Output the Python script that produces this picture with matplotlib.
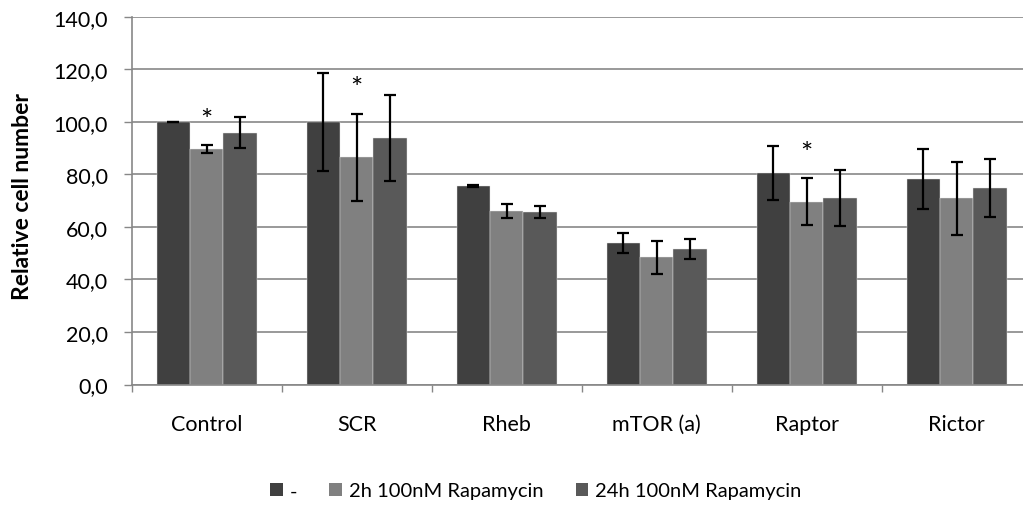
import matplotlib
matplotlib.use("Agg")
import matplotlib.pyplot as plt
import numpy as np
from matplotlib.patches import Patch

plt.rcParams['font.family'] = ['Lato', 'DejaVu Sans']

categories = ["Control", "SCR", "Rheb", "mTOR (a)", "Raptor", "Rictor"]
series_names = ["-", "2h 100nM Rapamycin", "24h 100nM Rapamycin"]
values_none = [100.0, 100.0, 75.5, 53.9, 80.6, 78.1]
values_2h = [89.6, 86.5, 66.0, 48.4, 69.5, 70.8]
values_24h = [95.8, 93.8, 65.6, 51.6, 71.0, 74.8]
err_none = [0.0, 18.6, 0.3, 3.7, 10.3, 11.5]
err_2h = [1.6, 16.6, 2.7, 6.2, 8.9, 13.8]
err_24h = [5.9, 16.5, 2.4, 3.8, 10.7, 11.1]
significant_2h = [True, True, False, False, True, False]
yticks = [0, 20, 40, 60, 80, 100, 120, 140]

colors = ["#404040", "#808080", "#595959"]
grid_col = "#878787"
FS = 15.5

W, H = 1023, 506
fig = plt.figure(figsize=(W / 100, H / 100), dpi=100)
ax = fig.add_axes([131.7 / W, (H - 385.5) / H, 900 / W, (385.5 - 17.6) / H])

x = np.arange(len(categories))
bw = 0.2222
all_vals = [values_none, values_2h, values_24h]
all_errs = [err_none, err_2h, err_24h]
for i, (v, e, c) in enumerate(zip(all_vals, all_errs, colors)):
    pos = x + (i - 1) * bw
    ax.bar(pos, v, width=bw, color=c, edgecolor="#e6e6e6", linewidth=0.3, zorder=2)
    ax.errorbar(pos, v, yerr=e, fmt="none", ecolor="black", elinewidth=1.6,
                capsize=4.5, capthick=1.6, zorder=3)

for xi, v, e, s in zip(x, values_2h, err_2h, significant_2h):
    if s:
        ax.annotate("*", xy=(xi, v + e), xytext=(0, 8), textcoords="offset points",
                    ha="center", va="bottom", fontsize=21, color="black")

ax.set_xlim(-0.5, len(categories) - 0.5)
ax.set_ylim(0, 140)
ax.set_yticks(yticks)
ax.set_yticklabels([f"{t:.1f}".replace(".", ",") for t in yticks])
ax.yaxis.grid(True, color=grid_col, linewidth=1.2, zorder=0)
ax.set_axisbelow(True)

ax.set_xticks(np.arange(len(categories) + 1) - 0.5)
ax.set_xticklabels([])
ax.set_xticks(x, minor=True)
ax.set_xticklabels(categories, minor=True)
ax.tick_params(axis="x", which="major", length=5, width=1, color=grid_col, direction="out")
ax.tick_params(axis="x", which="minor", length=0, pad=21, labelsize=FS)
ax.tick_params(axis="y", length=6, width=1, color=grid_col, pad=11, labelsize=FS)

for s in ["top", "right"]:
    ax.spines[s].set_visible(False)
for s in ["left", "bottom"]:
    ax.spines[s].set_color(grid_col)
    ax.spines[s].set_linewidth(1.2)

fig.text(23 / W, (H - 197) / H, "Relative cell number", rotation=90, ha="center",
         va="center", fontsize=16.5, fontweight="bold")

handles = [Patch(facecolor=c, edgecolor="none") for c in colors]
fig.legend(handles, series_names, loc="center", bbox_to_anchor=(536 / W, (H - 492) / H),
           ncol=3, frameon=False, fontsize=14.5, handlelength=0.62, handleheight=0.62,
           handletextpad=0.35, columnspacing=1.6)

fig.savefig("out.png", dpi=100)
